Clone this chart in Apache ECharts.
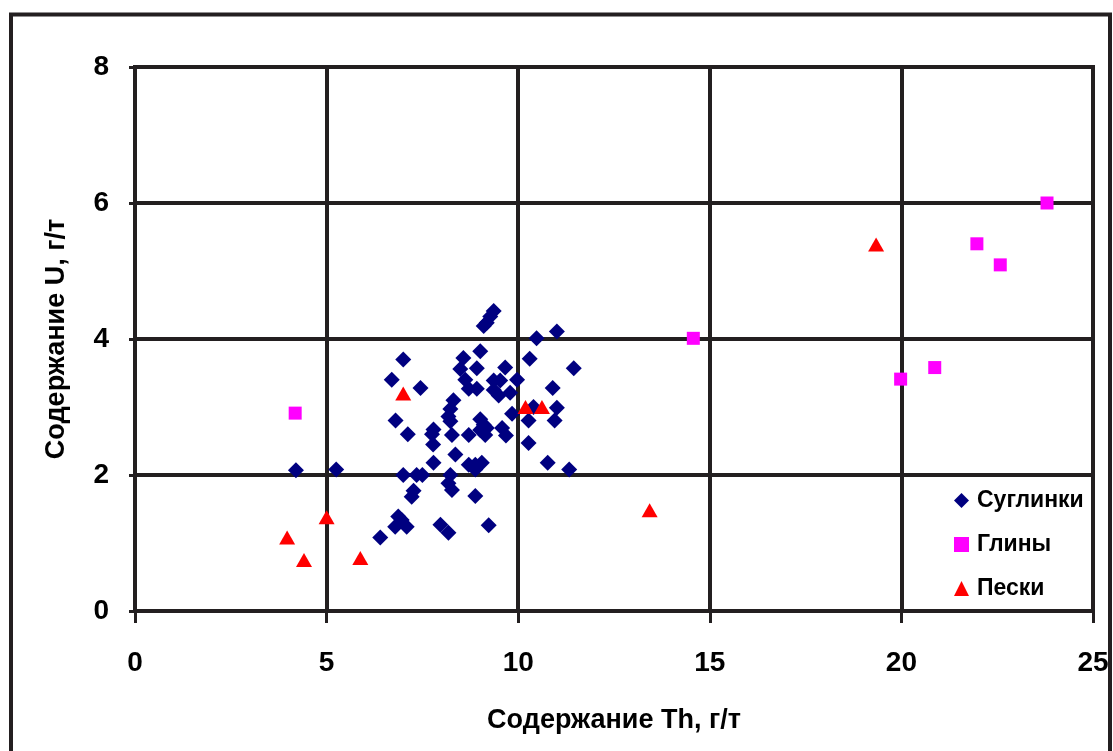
<!DOCTYPE html>
<html>
<head>
<meta charset="utf-8">
<script src="https://cdn.jsdelivr.net/npm/echarts@6/dist/echarts.min.js"></script>
<style>
  html, body { margin: 0; padding: 0; background: #ffffff; }
  #chart { width: 1113px; height: 751px; }
</style>
</head>
<body>
<div id="chart"></div>
<script>
// Содержание Th (x) и U (y), г/т, по типам отложений
const seriesNames = ['Суглинки', 'Глины', 'Пески'];

const suglinki = [
  [4.2, 2.07], [5.25, 2.08], [6.4, 1.08],
  [7.0, 3.7], [6.7, 3.4], [7.45, 3.28], [6.8, 2.8], [7.12, 2.6],
  [7.0, 2.0], [7.35, 2.0], [7.5, 2.0], [7.27, 1.77], [7.22, 1.68],
  [6.87, 1.39], [6.79, 1.24], [7.09, 1.24], [6.96, 1.34],
  [7.75, 2.6], [7.78, 2.45], [7.79, 2.67], [7.79, 2.18], [7.97, 1.27], [8.18, 1.15],
  [8.31, 3.1], [8.23, 2.97], [8.18, 2.86], [8.23, 2.79], [8.27, 2.59], [8.36, 2.3],
  [8.23, 2.0], [8.18, 1.88], [8.27, 1.78],
  [8.57, 3.72], [8.49, 3.56], [8.62, 3.4], [8.71, 3.27], [8.92, 3.57], [8.92, 3.27], [9.01, 3.82],
  [8.71, 2.59], [8.71, 2.15], [8.88, 2.15], [8.88, 2.08], [9.05, 2.18], [8.88, 1.69], [9.23, 1.26],
  [9.36, 4.41], [9.27, 4.33], [9.18, 4.24], [9.1, 4.19],
  [9.36, 3.39], [9.53, 3.39], [9.36, 3.25], [9.49, 3.17],
  [9.01, 2.82], [9.1, 2.74], [9.18, 2.69], [9.01, 2.66], [9.14, 2.59],
  [9.58, 2.69], [9.68, 2.58],
  [9.66, 3.58], [9.79, 3.21], [9.84, 2.9], [9.97, 3.4],
  [10.3, 3.71], [10.27, 2.8], [10.4, 3.0], [10.27, 2.47],
  [10.48, 4.01], [11.01, 4.11],
  [10.9, 3.28], [10.95, 2.8], [11.01, 2.99],
  [11.45, 3.57],
  [10.77, 2.18], [11.33, 2.08]
];

const gliny = [
  [4.18, 2.91], [14.57, 4.01], [19.98, 3.41], [20.87, 3.58],
  [21.97, 5.4], [22.58, 5.09], [23.8, 6.0]
];

const peski = [
  [3.97, 1.08], [4.41, 0.75], [5.0, 1.38], [5.88, 0.78], [7.0, 3.2],
  [10.19, 3.0], [10.62, 3.0], [13.43, 1.48], [19.34, 5.39]
];

const xTicks = { min: 0, max: 25, interval: 5 };
const yTicks = { min: 0, max: 8, interval: 2 };

const ink = '#231f20';
const fontFamily = '"Liberation Sans", Arial, sans-serif';

const chart = echarts.init(document.getElementById('chart'), null, { renderer: 'canvas' });

chart.setOption({
  backgroundColor: '#ffffff',
  animation: false,
  grid: {
    left: 135, right: 20, top: 67, bottom: 140,
    show: true, borderColor: ink, borderWidth: 4, backgroundColor: 'transparent'
  },
  graphic: [{
    type: 'rect',
    shape: { x: 11, y: 14.5, width: 1099, height: 800 },
    style: { fill: 'none', stroke: ink, lineWidth: 4 },
    silent: true
  }],
  xAxis: {
    type: 'value',
    min: xTicks.min, max: xTicks.max, interval: xTicks.interval,
    name: 'Содержание Th, г/т',
    nameLocation: 'middle',
    nameGap: 96,
    nameTextStyle: { fontFamily, fontSize: 27, fontWeight: 'bold', color: '#000' },
    axisLine: { show: true, lineStyle: { color: ink, width: 4 } },
    axisTick: { show: true, inside: false, length: 12, lineStyle: { color: ink, width: 3 } },
    axisLabel: { margin: 38, fontFamily, fontSize: 28, fontWeight: 'bold', color: '#000' },
    splitLine: { show: true, lineStyle: { color: ink, width: 4 } }
  },
  yAxis: {
    type: 'value',
    min: yTicks.min, max: yTicks.max, interval: yTicks.interval,
    name: 'Содержание U, г/т',
    nameLocation: 'middle',
    nameGap: 65,
    nameTextStyle: { fontFamily, fontSize: 27, fontWeight: 'bold', color: '#000' },
    axisLine: { show: true, lineStyle: { color: ink, width: 4 } },
    axisTick: { show: true, inside: false, length: 6, lineStyle: { color: ink, width: 3 } },
    axisLabel: { margin: 26, fontFamily, fontSize: 28, fontWeight: 'bold', color: '#000' },
    splitLine: { show: true, lineStyle: { color: ink, width: 4 } }
  },
  legend: {
    orient: 'vertical',
    left: 949,
    top: 484,
    itemGap: 21,
    itemWidth: 15,
    itemHeight: 15,
    textStyle: { fontFamily, fontSize: 23, fontWeight: 'bold', color: '#000', padding: [0, 0, 0, 3] },
    data: [
      { name: seriesNames[0], icon: 'diamond' },
      { name: seriesNames[1], icon: 'rect' },
      { name: seriesNames[2], icon: 'triangle' }
    ]
  },
  series: [
    {
      name: seriesNames[0], type: 'scatter', data: suglinki,
      symbol: 'diamond', symbolSize: 16,
      itemStyle: { color: '#000080', opacity: 1 }
    },
    {
      name: seriesNames[1], type: 'scatter', data: gliny,
      symbol: 'rect', symbolSize: 13,
      itemStyle: { color: '#ff00ff', opacity: 1 }
    },
    {
      name: seriesNames[2], type: 'scatter', data: peski,
      symbol: 'triangle', symbolSize: [16, 14],
      itemStyle: { color: '#ff0000', opacity: 1 }
    }
  ]
});
</script>
</body>
</html>
